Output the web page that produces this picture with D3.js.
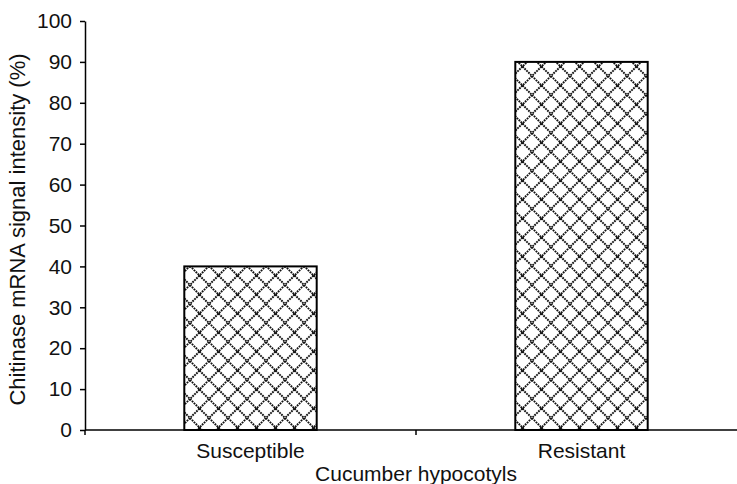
<!DOCTYPE html>
<html>
<head>
<meta charset="utf-8">
<script src="https://cdn.jsdelivr.net/npm/d3@7"></script>
<style>
  html, body { margin: 0; padding: 0; background: #fff; }
  svg { display: block; font-family: "Liberation Sans", Arial, sans-serif; }
</style>
</head>
<body>
<svg id="chart" width="737" height="484"></svg>
<script>
// Chart data
const categories = ["Susceptible", "Resistant"];
const signalValues = [40, 90];
const yTickValues = [0, 10, 20, 30, 40, 50, 60, 70, 80, 90, 100];
const yAxisTitle = "Chitinase mRNA signal intensity (%)";
const xAxisTitle = "Cucumber hypocotyls";

const svg = d3.select("#chart");
const plot = { left: 85, right: 747, top: 21, bottom: 430 };
const fontSize = 21;

const x = d3.scaleBand().domain(categories).range([plot.left, plot.right]).padding(0);
const y = d3.scaleLinear().domain([0, 100]).range([plot.bottom, plot.top]);

// Diamond lattice fill
const cell = 19;
const defs = svg.append("defs");
const pat = defs.append("pattern")
  .attr("id", "diamond")
  .attr("patternUnits", "userSpaceOnUse")
  .attr("width", cell).attr("height", cell)
  .attr("x", 0).attr("y", 0);
pat.append("rect").attr("width", cell).attr("height", cell).attr("fill", "#fff");
pat.append("path")
  .attr("d", `M0,0L${cell},${cell}M${cell},0L0,${cell}`)
  .attr("stroke", "#111").attr("stroke-width", 1.9).attr("fill", "none")
  .attr("stroke-dasharray", "1.8,0.9");

// Bars
const barW = x.bandwidth() * 0.4;
svg.append("g").selectAll("rect")
  .data(categories.map((c, i) => ({ c, v: signalValues[i] })))
  .join("rect")
  .attr("x", d => x(d.c) + (x.bandwidth() - barW) / 2)
  .attr("y", d => y(d.v))
  .attr("width", barW)
  .attr("height", d => y(0) - y(d.v))
  .attr("fill", "url(#diamond)")
  .attr("stroke", "#000")
  .attr("stroke-width", 2);

// Y axis
const yAxis = svg.append("g")
  .attr("transform", `translate(${plot.left},0)`)
  .call(d3.axisLeft(y).tickValues(yTickValues).tickSize(5).tickPadding(8).tickSizeOuter(0));
yAxis.select(".domain").attr("stroke", "#000").attr("stroke-width", 1.5);
yAxis.selectAll(".tick line").attr("stroke", "#000").attr("stroke-width", 1.5);
yAxis.selectAll(".tick text")
  .attr("font-size", fontSize).attr("font-family", "Liberation Sans, Arial, sans-serif")
  .attr("fill", "#111");

// X axis line with ticks at category boundaries
const xg = svg.append("g");
xg.append("line")
  .attr("x1", plot.left).attr("x2", plot.right)
  .attr("y1", y(0)).attr("y2", y(0))
  .attr("stroke", "#000").attr("stroke-width", 1.5);
const bounds = categories.map(c => x(c)).concat([x(categories[categories.length - 1]) + x.bandwidth()]);
xg.selectAll("line.tk").data(bounds).join("line")
  .attr("class", "tk")
  .attr("x1", d => d).attr("x2", d => d)
  .attr("y1", y(0)).attr("y2", y(0) + 5)
  .attr("stroke", "#000").attr("stroke-width", 1.5);
xg.selectAll("text").data(categories).join("text")
  .attr("x", d => x(d) + x.bandwidth() / 2)
  .attr("y", 458)
  .attr("text-anchor", "middle")
  .attr("font-size", fontSize)
  .attr("fill", "#111")
  .text(d => d);

// Axis titles
svg.append("text")
  .attr("x", (plot.left + plot.right) / 2)
  .attr("y", 481)
  .attr("text-anchor", "middle")
  .attr("font-size", fontSize)
  .attr("fill", "#111")
  .text(xAxisTitle);

svg.append("text")
  .attr("transform", `translate(25,${(plot.top + plot.bottom) / 2 + 4}) rotate(-90)`)
  .attr("text-anchor", "middle")
  .attr("font-size", 22)
  .attr("fill", "#111")
  .text(yAxisTitle);
</script>
</body>
</html>
